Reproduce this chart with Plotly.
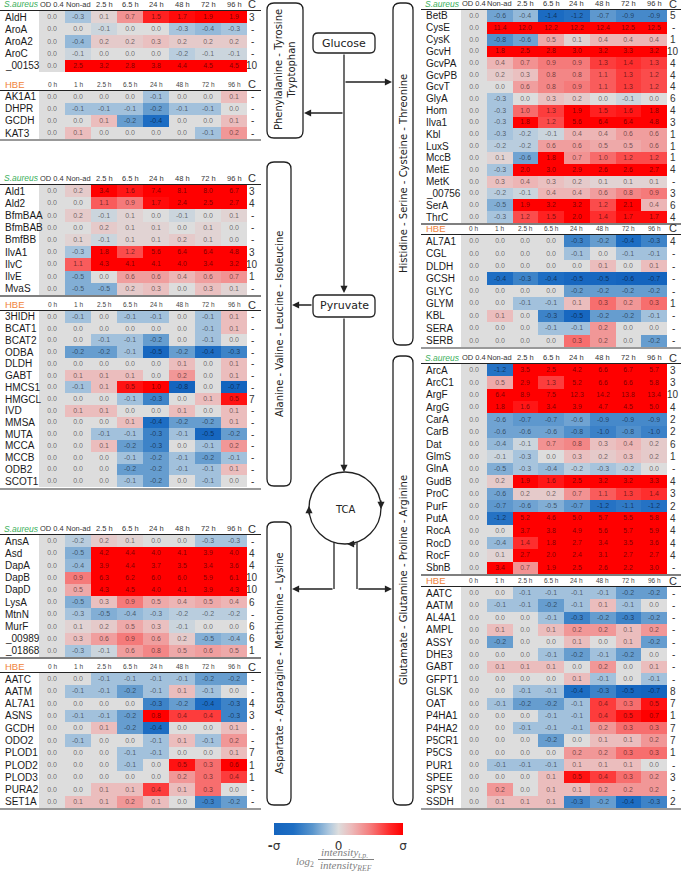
import plotly.graph_objects as go

W, H = 681, 875
SIGMA_SA = 1.8
SIGMA_HBE = 0.55

SA_COLS = ["OD 0.4", "Non-ad", "2.5 h", "6.5 h", "24 h", "48 h", "72 h", "96 h"]
HBE_COLS = ["0 h", "1 h", "2.5 h", "6.5 h", "24 h", "48 h", "72 h", "96 h"]

# ---------------- Phenylalanine - Tyrosine - Tryptophan ----------------
pty_sa_genes = ["AldH", "AroA", "AroA2", "AroC", "_00153"]
pty_sa_vals = [
    [0.0, -0.3, 0.1, 0.7, 1.5, 1.7, 1.9, 1.9],
    [0.0, 0.0, -0.1, 0.0, 0.0, -0.3, -0.4, -0.3],
    [0.0, -0.4, 0.2, 0.2, 0.3, 0.2, 0.2, 0.2],
    [0.0, -0.1, 0.0, 0.0, 0.0, -0.2, -0.1, -0.1],
    [0.0, 2.5, 3.2, 2.8, 3.8, 4.4, 4.5, 4.5],
]
pty_sa_c = ["3", "-", "-", "-", "10"]
pty_hbe_genes = ["AK1A1", "DHPR", "GCDH", "KAT3"]
pty_hbe_vals = [
    [0.0, 0.0, 0.0, 0.0, -0.1, 0.0, 0.0, 0.1],
    [0.0, -0.1, -0.1, -0.1, -0.2, -0.1, -0.1, 0.0],
    [0.0, 0.0, 0.1, -0.2, -0.4, 0.0, 0.0, 0.1],
    [0.0, 0.1, 0.0, 0.0, 0.0, 0.0, -0.1, 0.2],
]
pty_hbe_c = ["-", "-", "-", "-"]

# ---------------- Alanine - Valine - Leucine - Isoleucine ----------------
avli_sa_genes = ["Ald1", "Ald2", "BfmBAA", "BfmBAB", "BmfBB", "IlvA1", "IlvC", "IlvE", "MvaS"]
avli_sa_vals = [
    [0.0, 0.2, 3.4, 1.6, 7.4, 8.1, 8.0, 6.7],
    [0.0, 0.0, 1.1, 0.9, 1.7, 2.4, 2.5, 2.7],
    [0.0, 0.2, -0.1, 0.1, 0.0, -0.1, 0.0, 0.1],
    [0.0, 0.0, 0.2, 0.1, 0.1, 0.0, 0.1, 0.0],
    [0.0, 0.1, -0.1, 0.1, 0.1, 0.2, 0.1, 0.0],
    [0.0, -0.3, 1.8, 1.2, 5.6, 6.4, 6.4, 4.8],
    [0.0, 1.1, 4.3, 4.1, 4.1, 4.0, 3.4, 3.2],
    [0.0, -0.5, 0.0, 0.6, 0.6, 0.4, 0.6, 0.7],
    [0.0, -0.5, -0.5, 0.2, 0.3, 0.0, 0.3, 0.1],
]
avli_sa_c = ["3", "4", "-", "-", "-", "3", "10", "1", "-"]
avli_hbe_genes = ["3HIDH", "BCAT1", "BCAT2", "ODBA", "DLDH", "GABT", "HMCS1", "HMGCL",
                  "IVD", "MMSA", "MUTA", "MCCA", "MCCB", "ODB2", "SCOT1"]
avli_hbe_vals = [
    [0.0, -0.1, 0.0, -0.1, -0.1, 0.0, -0.1, 0.1],
    [0.0, 0.0, 0.0, 0.0, 0.0, 0.0, -0.1, 0.1],
    [0.0, 0.0, -0.1, -0.1, -0.2, 0.0, -0.1, 0.0],
    [0.0, -0.2, -0.2, -0.1, -0.5, -0.2, -0.4, -0.3],
    [0.0, 0.0, 0.0, 0.0, 0.0, 0.1, 0.0, 0.1],
    [0.0, 0.1, 0.1, 0.1, 0.0, 0.2, 0.0, 0.1],
    [0.0, -0.1, 0.1, 0.5, 1.0, -0.8, 0.0, -0.7],
    [0.0, 0.0, 0.0, -0.1, -0.3, 0.0, 0.1, 0.5],
    [0.0, 0.1, 0.1, 0.0, 0.0, 0.1, 0.0, 0.1],
    [0.0, 0.0, 0.0, 0.1, -0.4, -0.2, -0.2, 0.1],
    [0.0, 0.0, -0.1, -0.1, -0.3, -0.1, -0.5, -0.2],
    [0.0, 0.0, 0.1, -0.2, -0.3, 0.0, -0.1, 0.2],
    [0.0, 0.0, 0.0, -0.1, -0.2, -0.1, -0.2, -0.1],
    [0.0, 0.0, 0.0, -0.2, -0.2, -0.1, -0.1, 0.1],
    [0.0, 0.0, 0.0, -0.1, -0.2, 0.0, -0.1, 0.0],
]
avli_hbe_c = ["-", "-", "-", "-", "-", "-", "-", "7", "-", "-", "-", "-", "-", "-", "-"]

# ---------------- Aspartate - Asparagine - Methionine - Lysine ----------------
aaml_sa_genes = ["AnsA", "Asd", "DapA", "DapB", "DapD", "LysA", "MtnN", "MurF", "_00989", "_01868"]
aaml_sa_vals = [
    [0.0, -0.2, 0.2, 0.1, 0.0, 0.0, -0.3, -0.3],
    [0.0, -0.5, 4.2, 4.4, 4.0, 4.1, 3.9, 4.0],
    [0.0, -0.4, 3.9, 4.4, 3.7, 3.5, 3.4, 3.6],
    [0.0, 0.9, 6.3, 6.2, 6.0, 6.0, 5.9, 6.1],
    [0.0, 0.5, 4.3, 4.5, 4.0, 4.1, 3.9, 4.3],
    [0.0, -0.5, 0.3, 0.9, 0.5, 0.4, 0.5, 0.4],
    [0.0, -0.3, -0.5, -0.4, -0.3, -0.2, -0.2, -0.2],
    [0.0, 0.1, 0.2, 0.5, 0.3, -0.1, 0.0, 0.0],
    [0.0, 0.3, 0.6, 0.9, 0.6, 0.2, -0.5, -0.4],
    [0.0, -0.3, -0.1, 0.6, 0.8, 0.5, 0.6, 0.5],
]
aaml_sa_c = ["-", "4", "4", "10", "10", "6", "-", "6", "6", "1"]
aaml_hbe_genes = ["AATC", "AATM", "AL7A1", "ASNS", "GCDH", "ODO2", "PLOD1", "PLOD2",
                  "PLOD3", "PURA2", "SET1A"]
aaml_hbe_vals = [
    [0.0, 0.0, -0.1, -0.1, -0.1, -0.1, -0.2, -0.2],
    [0.0, -0.1, -0.1, -0.2, -0.1, 0.1, -0.1, 0.0],
    [0.0, 0.0, 0.0, 0.0, -0.3, -0.2, -0.4, -0.3],
    [0.0, -0.1, -0.1, -0.2, 0.8, 0.4, 0.4, -0.3],
    [0.0, 0.0, 0.1, -0.2, -0.4, 0.0, 0.0, 0.1],
    [0.0, -0.1, 0.0, 0.0, -0.1, 0.1, -0.1, 0.2],
    [0.0, 0.0, 0.0, -0.1, -0.1, 0.0, 0.0, 0.1],
    [0.0, 0.0, 0.0, -0.1, 0.0, 0.5, 0.3, 0.6],
    [0.0, 0.0, 0.0, 0.0, 0.0, 0.2, 0.3, 0.4],
    [0.0, 0.0, 0.1, 0.1, 0.4, 0.1, 0.3, 0.0],
    [0.0, 0.1, 0.1, 0.2, 0.1, 0.0, -0.3, -0.2],
]
aaml_hbe_c = ["-", "-", "4", "3", "-", "-", "7", "1", "1", "-", "-"]

# ---------------- Histidine - Serine - Cysteine - Threonine ----------------
hsct_sa_genes = ["BetB", "CysE", "CysK", "GcvH", "GcvPA", "GcvPB", "GcvT", "GlyA", "Hom",
                 "Ilva1", "Kbl", "LuxS", "MccB", "MetE", "MetK", "_00756", "SerA", "ThrC"]
hsct_sa_vals = [
    [0.0, -0.6, -0.4, -1.4, -1.2, -0.7, -0.9, -0.9],
    [0.0, 11.4, 12.0, 12.2, 12.2, 12.4, 12.5, 12.5],
    [0.0, -0.8, -0.6, 0.5, 0.1, 0.4, 0.4, 0.4],
    [0.0, 1.8, 2.5, 2.8, 3.0, 3.2, 3.3, 3.2],
    [0.0, 0.4, 0.7, 0.9, 0.9, 1.3, 1.4, 1.3],
    [0.0, 0.2, 0.3, 0.8, 0.8, 1.1, 1.3, 1.2],
    [0.0, 0.0, 0.6, 0.8, 0.9, 1.1, 1.3, 1.2],
    [0.0, -0.3, 0.0, 0.3, 0.2, 0.0, -0.1, 0.0],
    [0.0, -0.3, 1.0, 1.3, 1.9, 1.5, 1.6, 1.8],
    [0.0, -0.3, 1.8, 1.2, 5.6, 6.4, 6.4, 4.8],
    [0.0, -0.3, -0.2, -0.1, 0.4, 0.4, 0.6, 0.6],
    [0.0, -0.2, -0.2, 0.6, 0.6, 0.5, 0.5, 0.6],
    [0.0, 0.1, -0.6, 1.8, 0.7, 1.0, 1.2, 1.2],
    [0.0, -0.3, 2.0, 3.0, 2.9, 2.6, 2.6, 2.7],
    [0.0, 0.3, 0.4, 0.3, 0.2, 0.1, 0.1, 0.1],
    [0.0, -0.2, -0.1, 0.4, 0.4, 0.6, 0.8, 0.9],
    [0.0, -0.5, 1.9, 3.2, 3.2, 1.2, 2.1, 0.4],
    [0.0, -0.3, 1.2, 1.5, 2.0, 1.4, 1.7, 1.7],
]
hsct_sa_c = ["5", "-", "1", "10", "4", "4", "4", "6", "4", "3", "1", "1", "1", "4", "-", "3", "6", "4"]
hsct_hbe_genes = ["AL7A1", "CGL", "DLDH", "GCSH", "GLYC", "GLYM", "KBL", "SERA", "SERB"]
hsct_hbe_vals = [
    [0.0, 0.0, 0.0, 0.0, -0.3, -0.2, -0.4, -0.3],
    [0.0, 0.0, 0.0, 0.0, -0.1, 0.0, -0.1, -0.1],
    [0.0, 0.0, 0.0, 0.0, 0.0, 0.1, 0.0, 0.1],
    [0.0, -0.4, -0.3, -0.4, -0.5, -0.5, -0.6, -0.7],
    [0.0, 0.0, 0.0, 0.0, -0.2, -0.2, -0.2, -0.2],
    [0.0, 0.0, -0.1, -0.1, 0.1, 0.3, 0.2, 0.3],
    [0.0, 0.1, 0.0, -0.3, -0.5, -0.2, -0.2, -0.1],
    [0.0, 0.0, 0.0, -0.1, -0.1, 0.2, 0.0, 0.0],
    [0.0, 0.0, 0.0, 0.0, 0.3, 0.2, 0.0, -0.2],
]
hsct_hbe_c = ["4", "-", "-", "-", "-", "1", "-", "-", "-"]

# ---------------- Glutamate - Glutamine - Proline - Arginine ----------------
ggpa_sa_genes = ["ArcA", "ArcC1", "ArgF", "ArgG", "CarA", "CarB", "Dat", "GlmS", "GlnA",
                 "GudB", "ProC", "PurF", "PutA", "RocA", "RocD", "RocF", "SbnB"]
ggpa_sa_vals = [
    [0.0, -1.2, 3.5, 2.5, 4.2, 6.6, 6.7, 5.7],
    [0.0, 0.5, 2.9, 1.3, 5.2, 6.6, 6.6, 5.8],
    [0.0, 6.4, 8.9, 7.5, 12.3, 14.2, 13.8, 13.4],
    [0.0, 1.8, 1.6, 3.4, 3.9, 4.7, 4.5, 5.0],
    [0.0, -0.6, -0.7, -0.7, -0.6, -0.9, -0.9, -0.9],
    [0.0, -0.6, -0.6, -0.6, -0.8, -1.0, -0.8, -1.0],
    [0.0, -0.4, -0.1, 0.7, 0.8, 0.3, 0.4, 0.2],
    [0.0, -0.1, -0.3, 0.0, 0.3, 0.2, 0.3, 0.2],
    [0.0, -0.5, -0.3, -0.4, -0.2, -0.3, -0.2, 0.0],
    [0.0, 0.2, 1.9, 1.6, 2.5, 3.2, 3.2, 3.3],
    [0.0, -0.6, 0.2, 0.2, 0.7, 1.1, 1.3, 1.4],
    [0.0, -0.7, -0.6, -0.5, -0.7, -1.2, -1.1, -1.2],
    [0.0, -1.2, 5.2, 4.6, 5.0, 5.7, 5.5, 5.8],
    [0.0, 0.0, 3.7, 3.8, 4.9, 5.6, 5.7, 5.9],
    [0.0, -0.4, 1.4, 1.8, 2.7, 3.4, 3.5, 3.6],
    [0.0, 0.1, 2.7, 2.0, 2.4, 3.1, 2.7, 2.7],
    [0.0, 3.4, 0.7, 1.9, 2.5, 2.6, 2.2, 3.0],
]
ggpa_sa_c = ["3", "3", "10", "4", "2", "2", "6", "1", "-", "4", "3", "2", "4", "4", "4", "4", "-"]
ggpa_hbe_genes = ["AATC", "AATM", "AL4A1", "AMPL", "ASSY", "DHE3", "GABT", "GFPT1", "GLSK",
                  "OAT", "P4HA1", "P4HA2", "P5CR1", "P5CS", "PUR1", "SPEE", "SPSY", "SSDH"]
ggpa_hbe_vals = [
    [0.0, 0.0, -0.1, -0.1, -0.1, -0.1, -0.2, -0.2],
    [0.0, -0.1, -0.1, -0.2, -0.1, 0.1, -0.1, 0.0],
    [0.0, 0.0, 0.0, -0.1, -0.3, -0.2, -0.3, -0.2],
    [0.0, 0.1, 0.0, 0.1, 0.2, 0.2, 0.1, 0.2],
    [0.0, -0.2, 0.0, 0.0, 0.1, 0.0, 0.1, -0.2],
    [0.0, 0.0, 0.0, -0.1, -0.2, -0.1, -0.2, 0.0],
    [0.0, 0.1, 0.1, 0.1, 0.0, 0.2, 0.0, 0.1],
    [0.0, 0.0, 0.0, 0.0, 0.1, -0.1, 0.0, -0.1],
    [0.0, 0.0, -0.1, -0.1, -0.4, -0.3, -0.5, -0.7],
    [0.0, -0.1, -0.2, -0.2, -0.1, 0.4, 0.3, 0.5],
    [0.0, 0.0, 0.0, -0.1, -0.1, 0.4, 0.5, 0.7],
    [0.0, 0.0, -0.1, -0.1, -0.1, 0.2, 0.3, 0.3],
    [0.0, 0.0, 0.0, -0.2, 0.0, 0.1, 0.1, 0.2],
    [0.0, 0.0, 0.0, 0.0, 0.2, 0.2, 0.3, 0.3],
    [0.0, -0.1, -0.1, -0.1, 0.1, 0.1, 0.1, 0.0],
    [0.0, 0.0, 0.0, 0.1, 0.5, 0.4, 0.3, 0.2],
    [0.0, 0.2, 0.0, 0.1, 0.1, 0.2, 0.2, 0.2],
    [0.0, 0.1, 0.1, 0.1, -0.3, -0.2, -0.4, -0.3],
]
ggpa_hbe_c = ["-", "-", "-", "-", "-", "-", "-", "-", "8", "7", "1", "7", "7", "1", "-", "3", "-", "2"]

# ---------------- layout geometry (pixels) ----------------
SIDES = {
    "L": dict(label_x=3, heat=(39, 247), c_x=252, line=(0, 261)),
    "R": dict(label_x=424, heat=(461, 667), c_x=673, line=(421, 681)),
}
BLOCKS = [
    (pty_sa_genes, pty_sa_vals, pty_sa_c, "sa", "L", 11, 72),
    (pty_hbe_genes, pty_hbe_vals, pty_hbe_c, "hbe", "L", 91, 139),
    (avli_sa_genes, avli_sa_vals, avli_sa_c, "sa", "L", 185, 295),
    (avli_hbe_genes, avli_hbe_vals, avli_hbe_c, "hbe", "L", 311, 487),
    (aaml_sa_genes, aaml_sa_vals, aaml_sa_c, "sa", "L", 535, 657),
    (aaml_hbe_genes, aaml_hbe_vals, aaml_hbe_c, "hbe", "L", 673, 808),
    (hsct_sa_genes, hsct_sa_vals, hsct_sa_c, "sa", "R", 10, 223),
    (hsct_hbe_genes, hsct_hbe_vals, hsct_hbe_c, "hbe", "R", 235, 347),
    (ggpa_sa_genes, ggpa_sa_vals, ggpa_sa_c, "sa", "R", 364, 574),
    (ggpa_hbe_genes, ggpa_hbe_vals, ggpa_hbe_c, "hbe", "R", 587, 808),
]
SEPARATORS = [("L", 296), ("L", 658), ("R", 224), ("R", 575)]
PANEL_BOTTOMS = [("L", 140), ("L", 489), ("L", 809), ("R", 348), ("R", 809)]


def fx(p):
    return p / W


def fy(p):
    return 1 - p / H


LABEL_FONT = "Liberation Sans, Arial, sans-serif"
DIAG_FONT = "DejaVu Sans, Verdana, sans-serif"

COLORSCALE = [
    [0.0, "rgb(20,100,190)"],
    [0.15, "rgb(30,110,195)"],
    [0.30, "rgb(90,150,205)"],
    [0.425, "rgb(172,199,222)"],
    [0.5, "rgb(221,221,221)"],
    [0.6, "rgb(236,186,186)"],
    [0.75, "rgb(245,122,122)"],
    [0.9, "rgb(255,40,40)"],
    [1.0, "rgb(255,0,0)"],
]

fig = go.Figure()
annotations = []
shapes = []
layout = dict(
    width=W, height=H, margin=dict(l=0, r=0, t=0, b=0),
    paper_bgcolor="white", plot_bgcolor="white", showlegend=False,
    coloraxis=dict(
        cmin=-1, cmax=1, colorscale=COLORSCALE,
        colorbar=dict(
            orientation="h", x=fx(338.5), xanchor="center", y=fy(823), yanchor="top",
            len=129, lenmode="pixels", thickness=12, thicknessmode="pixels",
            tickvals=[-1, 0, 1], ticktext=["<b>-</b>σ", "0", "σ"], ticks="",
            outlinewidth=0, xpad=0, ypad=0,
            tickfont=dict(size=12, family=DIAG_FONT, color="#333"),
        ),
    ),
)

for i, (genes, vals, cvals, org, side, top, bot) in enumerate(BLOCKS, start=1):
    sd = SIDES[side]
    sfx = "" if i == 1 else str(i)
    xr, yr = "x" + sfx, "y" + sfx
    n = len(genes)
    sigma = SIGMA_SA if org == "sa" else SIGMA_HBE
    zn = [[v / sigma for v in row] for row in vals]
    txt = [[f"{v:.1f}" for v in row] for row in vals]
    fig.add_trace(go.Heatmap(
        z=zn, x=list(range(8)), y=list(range(n)), text=txt, texttemplate="%{text}",
        textfont=dict(size=7, color="rgba(0,0,0,0.55)", family=LABEL_FONT),
        coloraxis="coloraxis", xaxis=xr, yaxis=yr, hoverinfo="skip",
    ))
    layout["xaxis" + sfx] = dict(domain=[fx(sd["heat"][0]), fx(sd["heat"][1])], range=[-0.5, 7.5],
                                 visible=False, anchor=yr, fixedrange=True)
    layout["yaxis" + sfx] = dict(domain=[fy(bot), fy(top)], range=[n - 0.5, -0.5],
                                 visible=False, anchor=xr, fixedrange=True)
    for r, g in enumerate(genes):
        annotations.append(dict(text=g, xref="paper", x=fx(sd["label_x"]), xanchor="left",
                                yref=yr, y=r, yanchor="middle", showarrow=False,
                                font=dict(size=10, family=LABEL_FONT, color="#1a1a1a")))
        annotations.append(dict(text=cvals[r], xref="paper", x=fx(sd["c_x"]), xanchor="center",
                                yref=yr, y=r, yanchor="middle", showarrow=False,
                                font=dict(size=10, family=LABEL_FONT, color="#333")))
    hy = fy(top - 6.5)
    if org == "sa":
        annotations.append(dict(text="<i>S.aureus</i>", xref="paper", x=fx(sd["label_x"] - 1),
                                xanchor="left", yref="paper", y=hy, yanchor="middle", showarrow=False,
                                font=dict(size=8.5, family=LABEL_FONT, color="#3aaf5c")))
        cols, cfs, ccol = SA_COLS, 7.5, "#333"
    else:
        annotations.append(dict(text="HBE", xref="paper", x=fx(sd["label_x"]),
                                xanchor="left", yref="paper", y=hy, yanchor="middle", showarrow=False,
                                font=dict(size=9.5, family=LABEL_FONT, color="#f0843a")))
        cols, cfs, ccol = HBE_COLS, 6.5, "#444"
    for j, cn in enumerate(cols):
        annotations.append(dict(text=cn, xref=xr, x=j, xanchor="center", yref="paper", y=hy,
                                yanchor="middle", showarrow=False,
                                font=dict(size=cfs, family=LABEL_FONT, color=ccol)))
    annotations.append(dict(text="C", xref="paper", x=fx(sd["c_x"]), xanchor="center", yref="paper",
                            y=hy, yanchor="middle", showarrow=False,
                            font=dict(size=11, family=LABEL_FONT, color="#333")))
    shapes.append(dict(type="line", xref="paper", yref="paper", x0=fx(sd["line"][0]),
                       x1=fx(sd["line"][1]), y0=fy(top - 0.5), y1=fy(top - 0.5),
                       line=dict(color="#222", width=1)))

for side, y in SEPARATORS:
    sd = SIDES[side]
    shapes.append(dict(type="line", xref="paper", yref="paper", x0=fx(sd["line"][0]),
                       x1=fx(sd["line"][1]), y0=fy(y), y1=fy(y), line=dict(color="#555", width=1.6)))
for side, y in PANEL_BOTTOMS:
    sd = SIDES[side]
    shapes.append(dict(type="line", xref="paper", yref="paper", x0=fx(sd["line"][0]),
                       x1=fx(sd["line"][1]), y0=fy(y), y1=fy(y), line=dict(color="#999", width=2)))


# ---------------- pathway diagram ----------------
def rbox(x0, y0, x1, y1, r=7):
    L, R, T, B = fx(x0), fx(x1), fy(y0), fy(y1)
    rx, ry = r / W, r / H
    path = (f"M {L+rx},{T} L {R-rx},{T} Q {R},{T} {R},{T-ry} L {R},{B+ry} Q {R},{B} {R-rx},{B} "
            f"L {L+rx},{B} Q {L},{B} {L},{B+ry} L {L},{T-ry} Q {L},{T} {L+rx},{T} Z")
    shapes.append(dict(type="path", xref="paper", yref="paper", path=path,
                       line=dict(color="#222", width=1.3), fillcolor="white"))


def label(text, x, y, size=10.5, angle=0):
    annotations.append(dict(text=text, xref="paper", yref="paper", x=fx(x), y=fy(y),
                            xanchor="center", yanchor="middle", showarrow=False, textangle=angle,
                            font=dict(size=size, family=DIAG_FONT, color="#222")))


def arrow(hx, hy, tx, ty):
    annotations.append(dict(text="", xref="paper", yref="paper", x=fx(hx), y=fy(hy),
                            ax=tx - hx, ay=ty - hy, axref="pixel", ayref="pixel",
                            showarrow=True, arrowhead=2, arrowsize=1.1, arrowwidth=1.3,
                            arrowcolor="#222", standoff=0, startstandoff=0))


def seg(x0, y0, x1, y1):
    shapes.append(dict(type="line", xref="paper", yref="paper", x0=fx(x0), y0=fy(y0),
                       x1=fx(x1), y1=fy(y1), line=dict(color="#222", width=1.3)))


rbox(267, 3, 303, 138)
label("Phenylalanine - Tyrosine<br>Tryptophan", 285, 70, 10, -90)
rbox(267, 162, 291, 486)
label("Alanine - Valine - Leucine - Isoleucine", 279, 324, 10, -90)
rbox(267, 522, 291, 805)
label("Aspartate - Asparagine - Methionine - Lysine", 279, 663, 10, -90)
rbox(393, 3, 413, 345)
label("Histidine - Serine - Cysteine - Threonine", 403, 174, 10, -90)
rbox(393, 356, 413, 805)
label("Glutamate - Glutamine - Proline - Arginine", 403, 580, 10, -90)

arrow(344, 293, 344, 53)
arrow(392, 82, 344, 82)
arrow(304, 113, 344, 113)
rbox(313, 33, 375, 53, 5)
label("Glucose", 344, 43, 11)
arrow(344, 472, 344, 317)
arrow(292, 305, 313, 305)
rbox(313, 295, 375, 317, 5)
label("Pyruvate", 344, 306, 11)

cx, cy, cr = 345, 508, 36
shapes.append(dict(type="circle", xref="paper", yref="paper", x0=fx(cx - cr), x1=fx(cx + cr),
                   y0=fy(cy + cr), y1=fy(cy - cr), line=dict(color="#222", width=1.3)))
label("TCA", cx, cy + 1, 10)
arrow(381, 509, 381, 499)
arrow(309, 506, 309, 516)
arrow(347, 544, 357, 544)

seg(334, 542, 334, 589)
seg(357, 542, 357, 589)
arrow(292, 589, 334, 589)
arrow(392, 589, 357, 589)

# ---------------- colour legend formula ----------------
FORM = dict(size=11, family="Liberation Serif, serif", color="#808080")
annotations.append(dict(text="<i>log</i><sub>2</sub>", xref="paper", yref="paper", x=fx(305), y=fy(862),
                        xanchor="center", yanchor="middle", showarrow=False, font=FORM))
annotations.append(dict(text="<i>intensity</i><sub><i>t.p.</i></sub>", xref="paper", yref="paper",
                        x=fx(344), y=fy(853), xanchor="center", yanchor="middle", showarrow=False, font=FORM))
annotations.append(dict(text="<i>intensity</i><sub><i>REF</i></sub>", xref="paper", yref="paper",
                        x=fx(346), y=fy(866), xanchor="center", yanchor="middle", showarrow=False, font=FORM))
shapes.append(dict(type="line", xref="paper", yref="paper", x0=fx(318), x1=fx(374), y0=fy(859.5),
                   y1=fy(859.5), line=dict(color="#808080", width=1)))

layout["annotations"] = annotations
layout["shapes"] = shapes
fig.update_layout(**layout)
fig.write_html("out.html", config={"displayModeBar": False},
               post_script="document.body.style.margin='0px';document.body.style.overflow='hidden';")
